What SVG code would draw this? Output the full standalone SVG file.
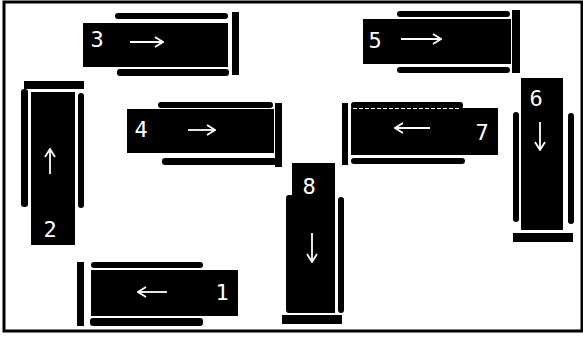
<svg xmlns="http://www.w3.org/2000/svg" width="583" height="337" viewBox="0 0 583 337">
<defs>
<marker id="ah" viewBox="0 0 10 12" refX="9" refY="6" markerWidth="10" markerHeight="12" markerUnits="userSpaceOnUse" orient="auto">
<path d="M1,1 L9,6 L1,11" fill="none" stroke="#fff" stroke-width="1.8"/>
</marker>
</defs>
<style>
.blk{fill:#000}
.bar{fill:#000}
.arr{stroke:#fff;stroke-width:1.8;fill:none;marker-end:url(#ah)}
.num{fill:#fff;font-family:"DejaVu Sans Mono","Liberation Mono",monospace;font-size:22px;text-anchor:middle}
.gap{stroke:#fff;stroke-width:1;stroke-dasharray:4 2}
</style>
<rect x="0" y="0" width="583" height="337" fill="#fff"/>
<rect x="4" y="2" width="578" height="329" fill="none" stroke="#000" stroke-width="3"/>
<g id="block3">
<rect class="blk" x="83" y="23" width="145" height="44"/>
<rect class="bar" x="115" y="13" width="113" height="6" rx="3"/>
<rect class="bar" x="117" y="69" width="112" height="7" rx="3"/>
<rect class="bar" x="232" y="12" width="7" height="63"/>
<text class="num" x="97" y="47">3</text>
<line class="arr" x1="130" y1="42" x2="163" y2="42"/>
</g>
<g id="block5">
<rect class="blk" x="363" y="19" width="148" height="45"/>
<rect class="bar" x="397" y="11" width="113" height="6" rx="3"/>
<rect class="bar" x="397" y="67" width="113" height="6" rx="3"/>
<rect class="bar" x="512" y="10" width="8" height="63"/>
<text class="num" x="375" y="48">5</text>
<line class="arr" x1="401" y1="39" x2="441" y2="39"/>
</g>
<g id="block4">
<rect class="blk" x="127" y="109" width="147" height="44"/>
<rect class="bar" x="158" y="102" width="115" height="6" rx="3"/>
<rect class="bar" x="162" y="158" width="115" height="7" rx="3"/>
<rect class="bar" x="275" y="103" width="7" height="64"/>
<text class="num" x="141" y="137">4</text>
<line class="arr" x1="188" y1="130" x2="215" y2="130"/>
</g>
<g id="block7">
<rect class="blk" x="351" y="108" width="147" height="47"/>
<rect class="bar" x="351" y="102" width="112" height="7" rx="3"/>
<line class="gap" x1="353" y1="108.5" x2="461" y2="108.5"/>
<rect class="bar" x="351" y="158" width="114" height="6" rx="3"/>
<rect class="bar" x="342" y="103" width="6" height="62"/>
<text class="num" x="482" y="140">7</text>
<line class="arr" x1="430" y1="128" x2="395" y2="128"/>
</g>
<g id="block2">
<rect class="blk" x="31" y="92" width="44" height="153"/>
<rect class="bar" x="24" y="81" width="60" height="8"/>
<rect class="bar" x="21" y="89" width="7" height="118" rx="3"/>
<rect class="bar" x="78" y="93" width="6" height="115" rx="3"/>
<line class="arr" x1="50" y1="174" x2="50" y2="149"/>
<text class="num" x="50" y="237">2</text>
</g>
<g id="block6">
<rect class="blk" x="521" y="78" width="42" height="152"/>
<rect class="bar" x="513" y="112" width="6" height="110" rx="3"/>
<rect class="bar" x="568" y="113" width="6" height="111" rx="3"/>
<rect class="bar" x="513" y="233" width="60" height="9"/>
<text class="num" x="536" y="106">6</text>
<line class="arr" x1="540" y1="122" x2="540" y2="150"/>
</g>
<g id="block8">
<rect class="blk" x="292" y="163" width="43" height="150"/>
<rect class="bar" x="286" y="195" width="8" height="118" rx="3"/>
<rect class="bar" x="338" y="197" width="6" height="116" rx="3"/>
<rect class="bar" x="282" y="315" width="60" height="9"/>
<text class="num" x="309" y="194">8</text>
<line class="arr" x1="312" y1="233" x2="312" y2="262"/>
</g>
<g id="block1">
<rect class="blk" x="91" y="270" width="147" height="46"/>
<rect class="bar" x="91" y="262" width="112" height="6" rx="3"/>
<rect class="bar" x="90" y="318" width="113" height="8" rx="3"/>
<rect class="bar" x="77" y="262" width="7" height="64"/>
<text class="num" x="222" y="300">1</text>
<line class="arr" x1="167" y1="292" x2="138" y2="292"/>
</g>
<g id="connectors"/>
</svg>
